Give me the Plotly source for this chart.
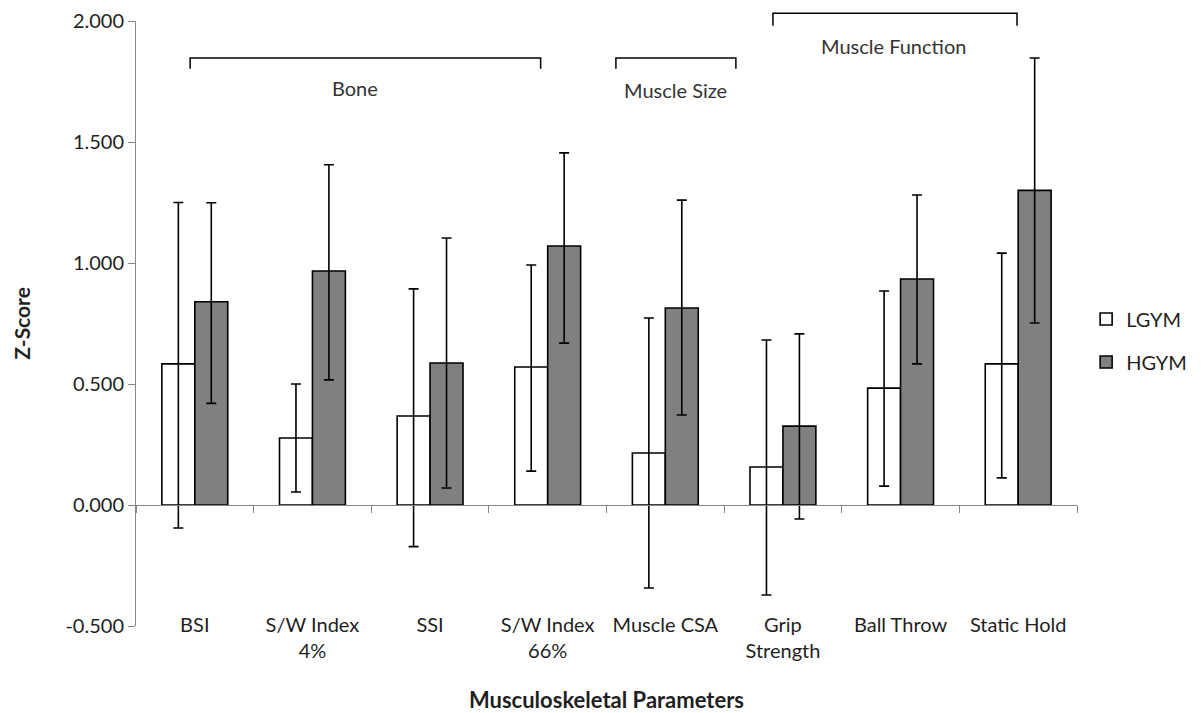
import plotly.graph_objects as go

categories = ["BSI", "S/W Index<br>4%", "SSI", "S/W Index<br>66%", "Muscle CSA",
              "Grip<br>Strength", "Ball Throw", "Static Hold"]

lgym_mean = [0.583, 0.277, 0.368, 0.570, 0.215, 0.157, 0.483, 0.583]
lgym_upper = [1.250, 0.500, 0.893, 0.992, 0.773, 0.682, 0.884, 1.041]
lgym_lower = [-0.095, 0.054, -0.172, 0.140, -0.343, -0.372, 0.078, 0.112]

hgym_mean = [0.840, 0.967, 0.587, 1.070, 0.814, 0.326, 0.934, 1.300]
hgym_upper = [1.249, 1.406, 1.103, 1.455, 1.260, 0.707, 1.281, 1.847]
hgym_lower = [0.420, 0.517, 0.070, 0.669, 0.372, -0.058, 0.583, 0.752]

y_ticks = [-0.5, 0.0, 0.5, 1.0, 1.5, 2.0]
y_ticktext = ["%.3f" % v for v in y_ticks]

FONT = "Lato"
TXT = "#1f1f1f"
AX = "#868686"
FS = 20


def err(mean, up, lo):
    return dict(type="data", symmetric=False,
                array=[u - m for u, m in zip(up, mean)],
                arrayminus=[m - l for m, l in zip(mean, lo)],
                color="black", thickness=1.6, width=5)


fig = go.Figure()
fig.add_trace(go.Bar(
    name="LGYM", x=categories, y=lgym_mean,
    marker=dict(color="white", line=dict(color="black", width=1.6)),
    error_y=err(lgym_mean, lgym_upper, lgym_lower),
    legendgroup="a",
))
fig.add_trace(go.Bar(
    name="HGYM", x=categories, y=hgym_mean,
    marker=dict(color="#808080", line=dict(color="black", width=1.6)),
    error_y=err(hgym_mean, hgym_upper, hgym_lower),
    legendgroup="b",
))
# invisible helper so the zero-line axis carries category ticks
fig.add_trace(go.Scatter(
    x=categories, y=[0] * len(categories), xaxis="x2", mode="markers",
    marker=dict(opacity=0), showlegend=False, hoverinfo="skip",
))

# page body has an 8px default margin, so the figure is shrunk by 8px
L, R, T, B = 128, 127, 13, 87
W, H = 1196, 705

fig.update_layout(
    width=W, height=H,
    margin=dict(l=L, r=R, t=T, b=B),
    paper_bgcolor="white", plot_bgcolor="white",
    font=dict(family=FONT, size=FS, color=TXT),
    barmode="group", bargap=0.44, bargroupgap=0,
    showlegend=True,
    legend=dict(x=1.0097, y=0.472, xanchor="left", yanchor="middle",
                font=dict(family=FONT, size=FS, color=TXT),
                tracegroupgap=14, traceorder="grouped",
                bgcolor="rgba(0,0,0,0)"),
    xaxis=dict(
        type="category", categoryorder="array", categoryarray=categories,
        range=[-0.5, len(categories) - 0.5],
        showline=False, ticks="", showgrid=False, zeroline=False,
        anchor="free", position=0.024,
        tickfont=dict(family=FONT, size=FS, color=TXT),
        title=dict(text="<b>Musculoskeletal Parameters</b>",
                   font=dict(family=FONT, size=22, color=TXT), standoff=37),
        automargin=False,
    ),
    xaxis2=dict(
        type="category", categoryorder="array", categoryarray=categories,
        range=[-0.5, len(categories) - 0.5], overlaying="x",
        anchor="free", position=0.2, side="bottom",
        showline=True, linecolor=AX, linewidth=1,
        ticks="outside", tickson="boundaries", ticklen=7, tickcolor=AX,
        showticklabels=False, showgrid=False, zeroline=False,
    ),
    yaxis=dict(
        range=[-0.5, 2.0], tickvals=y_ticks, ticktext=y_ticktext,
        showline=True, linecolor=AX, linewidth=1,
        ticks="outside", ticklen=7, tickcolor=AX,
        showgrid=False, zeroline=False,
        tickfont=dict(family=FONT, size=FS, color=TXT),
        title=dict(text="<b>Z-Score</b>",
                   font=dict(family=FONT, size=21, color=TXT), standoff=29),
        automargin=False,
    ),
)

# group brackets
brackets = [
    ("Bone", -0.04, 2.94, 0.939, 0.921, 1.36, 0.889),
    ("Muscle Size", 3.58, 4.60, 0.939, 0.921, 4.09, 0.886),
    ("Muscle Function", 4.915, 6.99, 1.013, 0.992, 5.94, 0.959),
]
for label, x0, x1, ytop, ybot, tx, ty in brackets:
    fig.add_shape(type="path", xref="x", yref="paper",
                  path=f"M {x0},{ybot} L {x0},{ytop} L {x1},{ytop} L {x1},{ybot}",
                  line=dict(color="black", width=1.5))
    fig.add_annotation(x=tx, y=ty, xref="x", yref="paper", text=label,
                       xanchor="center", yanchor="middle",
                       showarrow=False, font=dict(family=FONT, size=FS, color="#333333"))

fig.write_html("out.html")
